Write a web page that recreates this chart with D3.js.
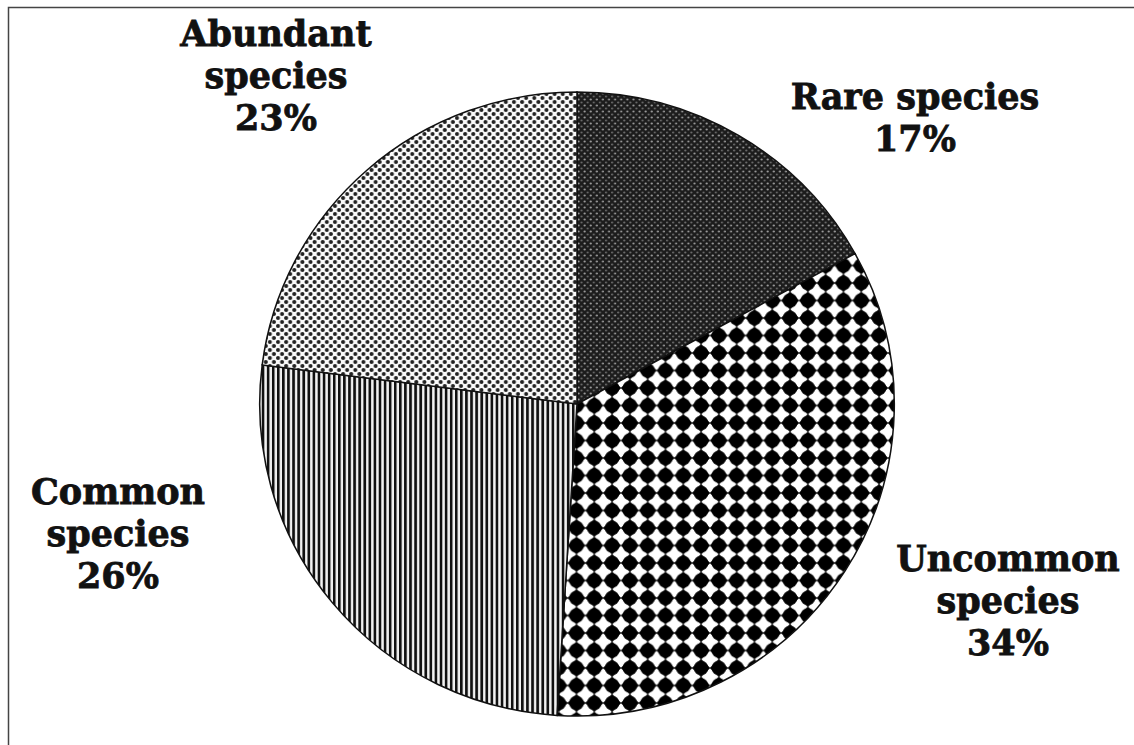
<!DOCTYPE html>
<html>
<head>
<meta charset="utf-8">
<script src="https://cdn.jsdelivr.net/npm/d3@7"></script>
<style>
  body { margin: 0; background: #fff; }
  svg { display: block; }
</style>
</head>
<body>
<svg></svg>
<script>
// pie data, clockwise from 12 o'clock
const categories = ['Rare species', 'Uncommon species', 'Common species', 'Abundant species']
const percents = [17, 34, 26, 23]
const labelLines = [
  ['Rare species', '17%'],
  ['Uncommon', 'species', '34%'],
  ['Common', 'species', '26%'],
  ['Abundant', 'species', '23%']
]

const width = 1134
const height = 745
const cx = 577, cy = 404, radius = 312

const svg = d3.select('svg')
              .attr('width', width)
              .attr('height', height)

// frame (top + left only)
svg.append('path')
   .attr('d', `M8.5,${height} V7.5 H${width}`)
   .attr('fill', 'none')
   .attr('stroke', '#444')
   .attr('stroke-width', 1.5)

//PATTERNS
const defs = svg.append('defs')

// rare: dark with small light dots
const pRare = defs.append('pattern').attr('id', 'p0')
   .attr('patternUnits', 'userSpaceOnUse').attr('width', 6).attr('height', 6)
pRare.append('rect').attr('width', 6).attr('height', 6).attr('fill', '#1c1c1c')
pRare.append('circle').attr('cx', 1.5).attr('cy', 1.5).attr('r', 1.1).attr('fill', '#9a9a9a')
pRare.append('circle').attr('cx', 4.5).attr('cy', 4.5).attr('r', 1.1).attr('fill', '#6a6a6a')

// uncommon: big black diamonds on white
const pUnc = defs.append('pattern').attr('id', 'p1')
   .attr('patternUnits', 'userSpaceOnUse').attr('width', 17.5).attr('height', 17.5)
   .attr('x', cx).attr('y', cy)
pUnc.append('rect').attr('width', 17.5).attr('height', 17.5).attr('fill', '#fff')
for (const [x, y] of [[0,0],[17.5,0],[0,17.5],[17.5,17.5]]) {
  pUnc.append('circle').attr('cx', x).attr('cy', y).attr('r', 7.2).attr('fill', '#000')
  pUnc.append('path')
      .attr('d', `M${x},${y-9} L${x+9},${y} L${x},${y+9} L${x-9},${y} Z`)
      .attr('fill', '#000')
}

// common: vertical stripes
const pCom = defs.append('pattern').attr('id', 'p2')
   .attr('patternUnits', 'userSpaceOnUse').attr('width', 5).attr('height', 5)
pCom.append('rect').attr('width', 5).attr('height', 5).attr('fill', '#f2f2f2')
pCom.append('rect').attr('width', 2.6).attr('height', 5).attr('fill', '#111')

// abundant: light with dark dots, staggered
const pAb = defs.append('pattern').attr('id', 'p3')
   .attr('patternUnits', 'userSpaceOnUse').attr('width', 8).attr('height', 8)
pAb.append('rect').attr('width', 8).attr('height', 8).attr('fill', '#fafafa')
pAb.append('circle').attr('cx', 2).attr('cy', 2).attr('r', 2).attr('fill', '#222')
pAb.append('circle').attr('cx', 6).attr('cy', 6).attr('r', 2).attr('fill', '#222')

//PIE
const pie = d3.pie().sort(null).value(d => d)
const arc = d3.arc().innerRadius(0).outerRadius(radius)
const arcs = pie(percents)

const g = svg.append('g').attr('transform', `translate(${cx},${cy}) scale(1.017,1)`)
g.selectAll('path.slice')
 .data(arcs)
 .join('path')
 .attr('class', 'slice')
 .attr('d', arc)
 .attr('fill', (d, i) => `url(#p${i})`)
 .attr('stroke', '#111')
 .attr('stroke-width', 1.5)

//LABELS
const labelAt = {
  'Rare species': [915, 109],
  'Uncommon species': [1008, 571],
  'Common species': [118, 504],
  'Abundant species': [276, 46]
}
const lineGap = 42

categories.forEach((c, i) => {
  const [x, y] = labelAt[c]
  const t = svg.append('text')
     .attr('x', x).attr('y', y)
     .attr('text-anchor', 'middle')
     .attr('font-family', 'DejaVu Serif, Liberation Serif, serif')
     .attr('font-weight', 'bold')
     .attr('font-size', 35)
     .attr('fill', '#111')
     .attr('stroke', '#111')
     .attr('stroke-width', 0.8)
  labelLines[i].forEach((line, k) => {
    t.append('tspan').attr('x', x).attr('y', y + k * lineGap).text(line)
  })
})
</script>
</body>
</html>
